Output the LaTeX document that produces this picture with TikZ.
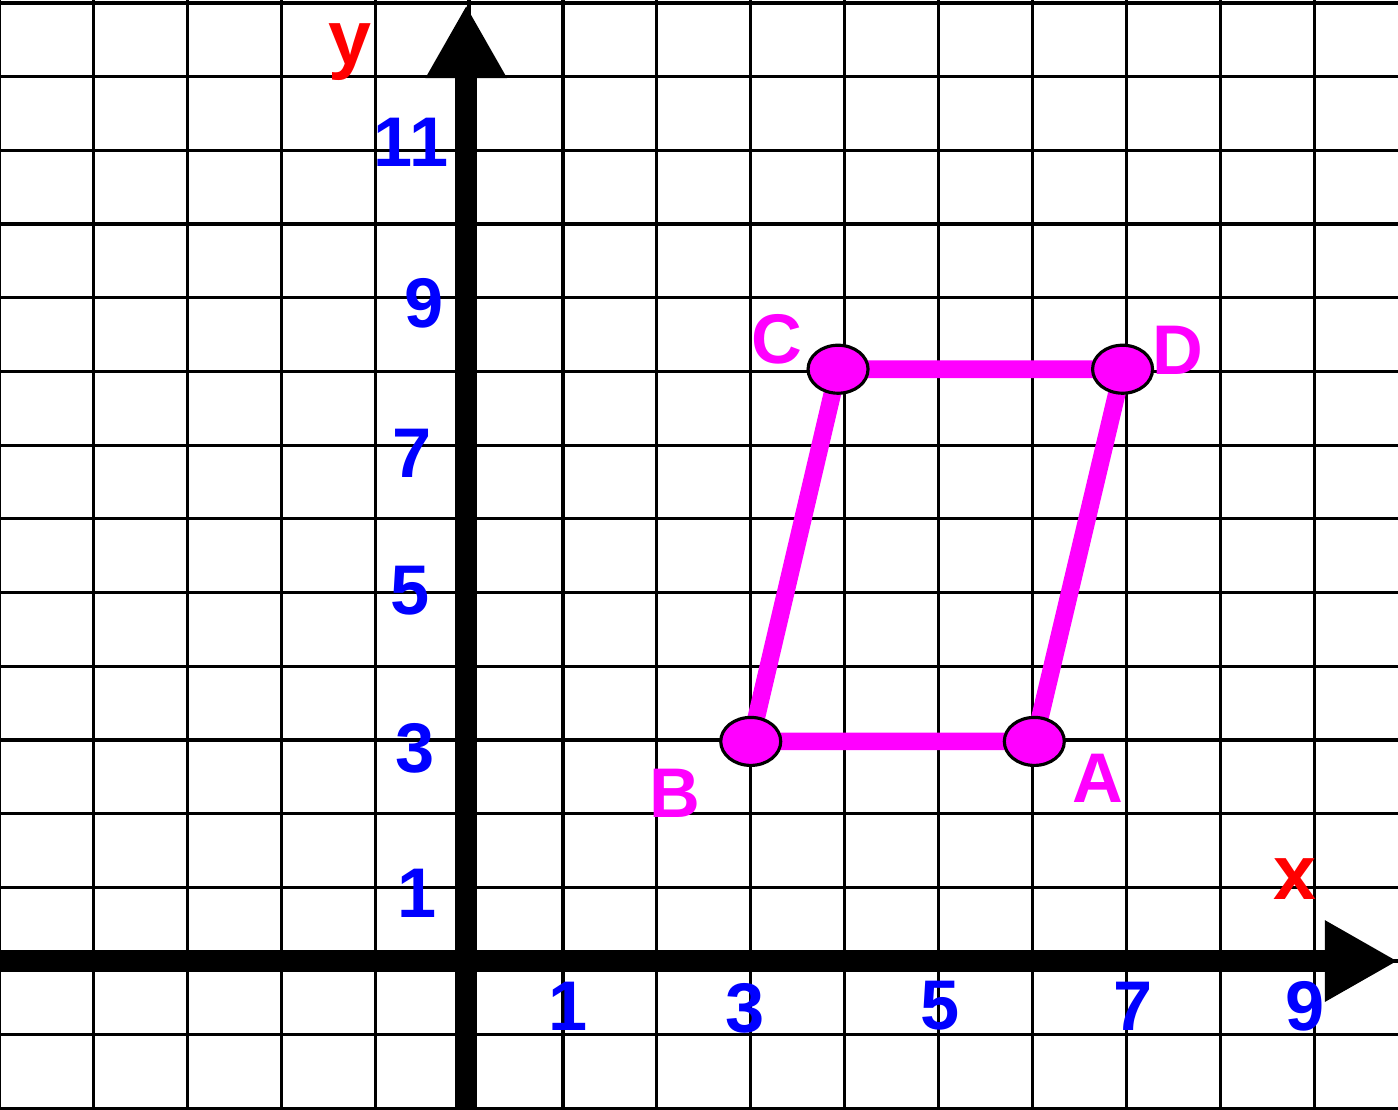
\documentclass[tikz,border=0pt]{standalone}
\usepackage{fontspec}
\setmainfont{Liberation Sans}
\usetikzlibrary{shapes.geometric, arrows.meta}
\definecolor{shapepink}{RGB}{255,0,255}
\definecolor{numblue}{RGB}{0,0,255}
\definecolor{axred}{RGB}{255,0,0}
\tikzstyle{gridline} = [black, line width=0.9pt]
\tikzstyle{axis} = [black, line width=6.2pt, -{Triangle[length=0.73cm, width=0.76cm]}]
\tikzstyle{side} = [shapepink, line width=5pt]
\tikzstyle{vertex} = [ellipse, minimum width=0.6cm, minimum height=0.48cm, inner sep=0pt,
                      draw=black, line width=0.9pt, fill=shapepink]
\tikzstyle{ticklabel} = [text=numblue, inner sep=0pt, font=\bfseries\fontsize{20}{24}\selectfont]
\tikzstyle{cornerlabel} = [text=shapepink, inner sep=0pt, font=\bfseries\fontsize{20}{24}\selectfont]
\tikzstyle{axislabel} = [text=axred, inner sep=0pt, font=\bfseries\fontsize{22}{26}\selectfont]

\begin{document}
\begin{tikzpicture}[x=0.939cm, y=0.737cm]

        \useasboundingbox (-4.995,-2.008) rectangle (9.893,13.04);
        \fill [white] (-4.995,-2.008) rectangle (9.893,13.04);

        % grid
        \foreach \i in {-5,...,9}
            \draw [gridline] (\i,-2.008) -- (\i,13.04);
        \foreach \j in {-2,...,13}
            \draw [gridline] (-4.995,\j) -- (9.893,\j);

        % axes
        \coordinate (xstart) at (-4.995,0);
        \coordinate (xend) at (9.893,0);
        \coordinate (ystart) at (-0.03,-2.008);
        \coordinate (yend) at (-0.03,12.97);
        \draw [axis] (xstart) -- (xend);
        \draw [axis] (ystart) -- (yend);

        \node (ylab) [axislabel] at (-1.267,12.33) {y};
        \node (xlab) [axislabel] at (8.797,1.113) {x};

        % axis numbers
        \node (y11) [ticklabel] at (-0.618,11.11) {11};
        \node (y9) [ticklabel] at (-0.479,8.93) {9};
        \node (y7) [ticklabel] at (-0.607,6.89) {7};
        \node (y5) [ticklabel] at (-0.628,5.03) {5};
        \node (y3) [ticklabel] at (-0.575,2.89) {3};
        \node (y1) [ticklabel] at (-0.554,0.923) {1};
        \node (x1) [ticklabel] at (1.054,-0.61) {1};
        \node (x3) [ticklabel] at (2.94,-0.64) {3};
        \node (x5) [ticklabel] at (5.016,-0.61) {5};
        \node (x7) [ticklabel] at (7.07,-0.62) {7};
        \node (x9) [ticklabel] at (8.90,-0.62) {9};

        % parallelogram
        \coordinate (a) at (6.02,2.98);
        \coordinate (b) at (3.00,2.98);
        \coordinate (c) at (3.93,8.03);
        \coordinate (d) at (6.96,8.03);
        \draw [side] (a) -- (b) -- (c) -- (d) -- cycle;

        \node (A) [vertex] at (a) {};
        \node (B) [vertex] at (b) {};
        \node (C) [vertex] at (c) {};
        \node (D) [vertex] at (d) {};

        \node (Alab) [cornerlabel] at (6.70,2.48) {A};
        \node (Blab) [cornerlabel] at (2.19,2.28) {B};
        \node (Clab) [cornerlabel] at (3.28,8.44) {C};
        \node (Dlab) [cornerlabel] at (7.55,8.29) {D};

    \end{tikzpicture}
\end{document}
